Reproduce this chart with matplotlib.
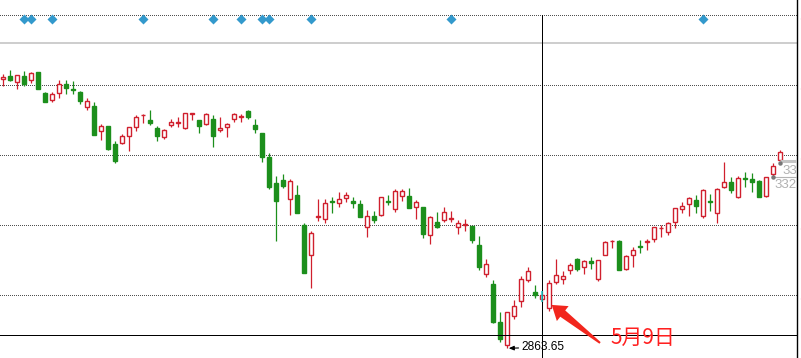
import numpy as np
import matplotlib.pyplot as plt
from matplotlib.patches import Polygon
from matplotlib.transforms import IdentityTransform, blended_transform_factory

# daily candles (index level)
opens = [3573, 3580, 3565, 3580, 3570, 3590, 3535, 3516, 3534, 3559,
         3545, 3538, 3499, 3501, 3436, 3448, 3401, 3403, 3423, 3445,
         3476, 3464, 3442, 3420, 3450, 3457, 3444, 3480, 3464, 3453,
         3467, 3438, 3445, 3466, 3471, 3488, 3451, 3430, 3367, 3298,
         3306, 3255, 3267, 3188, 3108, 3210, 3204, 3251, 3247, 3260,
         3251, 3243, 3183, 3212, 3215, 3250, 3231, 3265, 3264, 3236,
         3235, 3162, 3196, 3202, 3204, 3183, 3189, 3185, 3135, 3058,
         3033, 2932, 2871, 2949, 2987, 3043, 3012, 2992, 2969, 3037,
         3045, 3069, 3098, 3077, 3092, 3046, 3108, 3145, 3146, 3071,
         3110, 3133, 3143, 3150, 3179, 3169, 3195, 3231, 3242, 3253,
         3212, 3251, 3220, 3287, 3301, 3262, 3311, 3308, 3304, 3265,
         3321, 3360]
highs = [3585, 3596, 3582, 3593, 3591, 3591, 3537, 3537, 3569, 3569,
         3567, 3539, 3522, 3511, 3454, 3449, 3409, 3427, 3446, 3477,
         3480, 3490, 3449, 3440, 3467, 3472, 3482, 3483, 3465, 3482,
         3477, 3472, 3455, 3482, 3479, 3490, 3467, 3431, 3377, 3317,
         3322, 3309, 3293, 3192, 3173, 3256, 3256, 3262, 3275, 3275,
         3262, 3254, 3227, 3225, 3262, 3267, 3283, 3283, 3285, 3254,
         3236, 3212, 3222, 3235, 3225, 3201, 3204, 3186, 3159, 3098,
         3043, 2958, 2958, 2991, 3054, 3078, 3030, 3014, 3042, 3098,
         3067, 3087, 3100, 3097, 3103, 3096, 3145, 3148, 3148, 3109,
         3131, 3148, 3151, 3182, 3188, 3195, 3232, 3248, 3262, 3267,
         3283, 3269, 3284, 3353, 3314, 3316, 3327, 3325, 3305, 3313,
         3350, 3384]
lows = [3553, 3567, 3546, 3553, 3562, 3545, 3511, 3512, 3523, 3533,
        3533, 3507, 3491, 3424, 3412, 3386, 3351, 3402, 3383, 3436,
        3457, 3451, 3410, 3415, 3446, 3446, 3441, 3465, 3431, 3452,
        3394, 3433, 3420, 3460, 3460, 3466, 3431, 3354, 3283, 3147,
        3286, 3215, 3220, 3062, 3023, 3199, 3194, 3220, 3236, 3249,
        3233, 3210, 3157, 3194, 3212, 3241, 3223, 3252, 3233, 3204,
        3154, 3139, 3181, 3196, 3196, 3165, 3173, 3141, 3070, 3050,
        2931, 2881, 2863.65, 2941, 2971, 3039, 2997, 2985, 2962, 3034,
        3034, 3058, 3066, 3058, 3071, 3041, 3108, 3127, 3070, 3069,
        3078, 3113, 3122, 3143, 3157, 3161, 3179, 3220, 3212, 3220,
        3207, 3225, 3194, 3284, 3272, 3260, 3289, 3275, 3262, 3261,
        3315, 3360]
closes = [3576, 3569, 3582, 3560, 3588, 3546, 3512, 3532, 3558, 3549,
          3544, 3515, 3514, 3425, 3448, 3389, 3357, 3421, 3445, 3471,
          3478, 3457, 3423, 3437, 3458, 3458, 3482, 3482, 3449, 3479,
          3423, 3443, 3454, 3480, 3474, 3473, 3441, 3368, 3289, 3252,
          3291, 3304, 3220, 3062, 3166, 3212, 3246, 3248, 3256, 3267,
          3246, 3210, 3212, 3202, 3262, 3248, 3277, 3277, 3233, 3248,
          3165, 3209, 3183, 3222, 3206, 3193, 3191, 3149, 3077, 3085,
          2932, 2889, 2958, 2975, 3045, 3067, 3004, 3003, 3035, 3056,
          3053, 3082, 3073, 3092, 3087, 3095, 3143, 3147, 3070, 3106,
          3122, 3129, 3146, 3182, 3181, 3192, 3232, 3237, 3258, 3237,
          3279, 3249, 3282, 3300, 3281, 3311, 3310, 3302, 3262, 3313,
          3342, 3379]

event_days = [3, 4, 7, 20, 30, 34, 37, 38, 44, 64, 100]
grid_levels = [3004, 3188, 3372, 3556, 3740]
grid_labels = ['3003.80', '3187.84', '3371.88', '3555.92', '3739.96']
separator_level = 3666
crosshair_day = 77
crosshair_price = 2898.5
low_day = 72
low_label = '2863.65'
arrow_day = 78
arrow_label = '5月9日'
ma_days = [111, 110]
ma_values = [3352, 3315]
ma_labels = ['33', '332']

RED = '#d0202e'
GREEN = '#1c8f1c'

fig = plt.figure(figsize=(8.01, 3.58), dpi=100)
ax = fig.add_axes([0, 0, 797 / 801, 1])
ax.set_xlim(-0.476, 113.38)
ax.set_ylim(2838.1, 3779.6)

# grid and separator
for lvl in grid_levels:
    ax.axhline(lvl, color='#505050', lw=0.72, linestyle=(0, (1, 1.8)),
               antialiased=False, zorder=1)
ax.axhline(separator_level, color='#c0c0c0', lw=1.1, zorder=1)

# candles
x = np.arange(len(opens))
o = np.array(opens, dtype=float)
h = np.array(highs, dtype=float)
l = np.array(lows, dtype=float)
c = np.array(closes, dtype=float)
up = c >= o
bottom = np.minimum(o, c)
height = np.abs(c - o)
ax.vlines(x[up], l[up], h[up], color=RED, lw=0.9, zorder=3)
ax.vlines(x[~up], l[~up], h[~up], color=GREEN, lw=0.9, zorder=3)
ax.bar(x[up], height[up], bottom=bottom[up], width=0.57, facecolor='white',
       edgecolor=RED, linewidth=1.0, zorder=4)
ax.bar(x[~up], height[~up], bottom=bottom[~up], width=0.57, facecolor=GREEN,
       edgecolor=GREEN, linewidth=1.0, zorder=4)

# event markers in the top strip
strip = blended_transform_factory(ax.transData, ax.transAxes)
ax.plot(event_days, [0.946] * len(event_days), 'D', color='#3399cc', ms=5.2,
        mec='none', transform=strip, zorder=5)

# crosshair
ax.vlines(crosshair_day, ax.get_ylim()[0], grid_levels[-1], color='black', lw=0.72,
          antialiased=False, zorder=6)
ax.axhline(crosshair_price, color='black', lw=0.72, antialiased=False, zorder=6)
ax.vlines(crosshair_day, l[crosshair_day], h[crosshair_day], color='#22cccc', lw=1.1, zorder=7)

# line value labels at the right edge (cut off)
xr = ax.get_xlim()[1]
ax.hlines(ma_values[0] + 3, ma_days[0], xr, color='#c4c4c4', lw=2.2, zorder=5)
ax.hlines(ma_values[1], ma_days[1], xr, color='#b4b4b4', lw=0.8, zorder=5)
ax.plot(ma_days, ma_values, 'o', color='#777777', ms=3.2, mec='none', zorder=6)
edge = blended_transform_factory(ax.transAxes, ax.transData)
for v, lab in zip(ma_values, ma_labels):
    ax.annotate(lab, xy=(1, v), xycoords=edge, xytext=(0, -2), textcoords='offset pixels',
                ha='right', va='top', fontsize=9.5, family='Liberation Sans',
                color='#b0b0b0', zorder=6)

# lowest point label
ax.annotate(low_label, xy=(low_day, l[low_day]), xytext=(14, 1), textcoords='offset pixels',
            ha='left', va='center', fontsize=8.6, family='Liberation Sans', color='black',
            arrowprops=dict(arrowstyle='-|>,head_length=0.35,head_width=0.15', color='black',
                            lw=0.8, shrinkA=0, shrinkB=1), zorder=8)

# big red arrow and date note
tip = ax.transData.transform((arrow_day, o[arrow_day])) + np.array([2.4, 3.3])
tail = tip + np.array([48.3, -38.0])
u = (tip - tail) / np.hypot(*(tip - tail))
n = np.array([-u[1], u[0]])
base = tip - u * 14
pts = [tail + n * 1.0, base + n * 4.0, base + n * 9.5, tip,
       base - n * 9.5, base - n * 4.0, tail - n * 1.0]
ax.add_patch(Polygon(pts, closed=True, transform=IdentityTransform(),
                     facecolor='#f2261d', edgecolor='none', zorder=8))
ax.text(tip[0] + 58.3, tip[1] - 33, arrow_label, transform=IdentityTransform(),
        ha='left', va='center', fontsize=15, color='#ff2020',
        family=['Noto Sans CJK SC', 'DejaVu Sans'], zorder=8)

# frame and right axis (labels are cut off by the window edge, as in the screenshot)
for s in ['top', 'left', 'bottom']:
    ax.spines[s].set_visible(False)
ax.spines['right'].set_color('black')
ax.spines['right'].set_linewidth(1.0)
ax.set_xticks([])
ax.yaxis.tick_right()
ax.set_yticks(grid_levels, grid_labels)
ax.tick_params(axis='y', length=0, pad=1.5, labelcolor=RED, labelsize=9)

fig.savefig('out.png', dpi=100)
